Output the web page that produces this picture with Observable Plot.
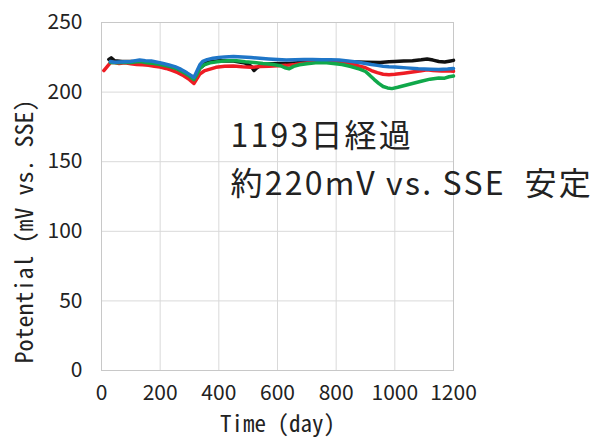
<!DOCTYPE html>
<html>
<head>
<meta charset="utf-8">
<script src="https://cdn.jsdelivr.net/npm/d3@7"></script>
<script src="https://cdn.jsdelivr.net/npm/@observablehq/plot@0.6"></script>
<style>
  html, body { margin: 0; padding: 0; background: #fff; }
</style>
</head>
<body>
<div id="chart"></div>
<script>
// ---- data ----
const xTicks = [0, 200, 400, 600, 800, 1000, 1200];
const yTicks = [0, 50, 100, 150, 200, 250];
const xTitle = "Time (day)";
const yTitle = "Potential (mV vs. SSE)";

const redDays = [8,20,32,45,60,80,100,120,140,160,180,200,220,240,260,280,300,315,325,335,350,370,390,420,450,480,510,540,570,600,630,660,690,720,750,780,810,840,870,900,920,940,960,980,1000,1030,1060,1090,1110,1130,1160,1180,1200];
const redMv   = [215.5,218.5,221.5,221.2,220.6,221,220.3,219.8,219.6,219.3,218.6,218,217,215.6,214,211.8,209,206.2,209.5,213,215.2,216.5,217.8,218.5,218.8,218.2,217.8,218.3,218.6,219,219.2,219.8,220.8,221.5,221.8,221.5,221,220.3,219.2,217.5,215.5,214,212.8,212.5,212.8,213.6,214.5,215.4,216,215.6,215.2,215.4,215];

const blueDays = [30,45,60,80,100,115,130,150,170,190,210,230,250,270,290,305,315,325,335,345,360,380,400,420,450,480,510,540,570,600,630,660,690,720,750,780,810,840,870,900,920,940,960,980,1000,1040,1080,1120,1150,1180,1200];
const blueMv   = [222,221.5,221.6,221.8,222,222.6,223,222.6,222.3,221.5,220.5,219.5,218.3,216.5,214,212,210.5,215,219.5,222,223.3,224.3,224.9,225.3,225.6,225.2,224.8,224.3,223.8,223.4,223,223.2,223.5,223.4,223.3,223.2,223,222.4,221.6,220.5,219.8,219.2,218.6,218.2,218,217.4,216.8,216.4,216.2,216.6,217];

const greenDays = [30,50,70,100,120,135,150,170,200,230,260,285,300,315,325,335,350,370,400,430,460,490,520,550,580,610,625,640,655,675,700,730,760,790,820,850,880,900,915,930,945,960,975,990,1010,1030,1060,1090,1120,1150,1170,1185,1200];
const greenMv   = [221.3,221,221.2,221.3,221.8,222,221.2,220.8,219.8,218.5,216.5,213.5,211.5,209,212.5,217,219.5,221,222,222.5,222.6,221.8,221.3,220.5,220,219,217.5,216.8,218.5,219.6,220.4,221,221.2,220.6,219.8,218.4,216.5,214.8,212,209,206.3,204,203,202.5,203.5,204.6,206.2,207.8,209.3,210.2,210,211,211.5];

const blackDays = [25,33,45,70,100,150,200,250,290,315,335,360,400,450,490,510,520,530,545,580,610,640,670,700,750,800,850,900,950,980,1000,1030,1060,1090,1110,1130,1150,1170,1190,1200];
const blackMv   = [223.5,224.6,222.5,222,222,221.5,220.5,217.5,213.5,210,217,221.5,222.6,222.3,220.8,218.5,215.5,217.5,219.8,220.3,220.6,220.5,221,221.3,221.8,222,221.8,221.5,221.3,221.8,222,222.4,222.6,223.2,223.8,223,222,221.6,222.4,222.8];

const noteText = ["1193日経過", "約220mV vs. SSE  安定"];
const noteDay  = [440, 440];
const noteMv   = [177, 142.5];

// ---- build tables ----
const rows = (days, mv) => days.map((d, i) => ({day: d, mv: mv[i]}));
const notes = noteText.map((t, i) => ({text: t, day: noteDay[i], mv: noteMv[i]}));

const lineOpts = (stroke) => ({x: "day", y: "mv", stroke, strokeWidth: 3.5, strokeLinejoin: "round", curve: "linear"});
const monoFont = "'Noto Sans Mono CJK JP', 'DejaVu Sans Mono', monospace";

const chart = Plot.plot({
  width: 597,
  height: 441,
  marginLeft: 101,
  marginRight: 144,
  marginTop: 22,
  marginBottom: 71,
  style: {background: "#fff", fontFamily: "'Noto Sans CJK JP', sans-serif", color: "#222", overflow: "visible"},
  x: {domain: [0, 1200]},
  y: {domain: [0, 250]},
  marks: [
    Plot.gridX(xTicks, {stroke: "#d9d9d9", strokeOpacity: 1}),
    Plot.gridY(yTicks, {stroke: "#d9d9d9", strokeOpacity: 1}),
    Plot.frame({stroke: "#c8c8c8"}),
    Plot.axisX(xTicks, {tickSize: 0, tickPadding: 15, fontSize: 21, label: null, tickFormat: d => String(d)}),
    Plot.axisY(yTicks, {tickSize: 0, tickPadding: 19, fontSize: 21, label: null, tickFormat: d => String(d)}),
    Plot.text([xTitle], {frameAnchor: "bottom", textAnchor: "middle", lineAnchor: "top", dy: 45, fontSize: 23, fontFamily: monoFont, fill: "#222"}),
    Plot.text([yTitle], {frameAnchor: "left", textAnchor: "middle", rotate: -90, dx: -76, dy: 35, fontSize: 24, fontFamily: monoFont, fill: "#222"}),
    Plot.line(rows(blackDays, blackMv), lineOpts("#111111")),
    Plot.line(rows(redDays, redMv), lineOpts("#ee1c24")),
    Plot.line(rows(greenDays, greenMv), lineOpts("#10a84a")),
    Plot.line(rows(blueDays, blueMv), lineOpts("#1f76c8")),
    Plot.text(notes, {x: "day", y: "mv", text: "text", textAnchor: "start", lineAnchor: "top", fontSize: 32, fill: "#222"})
  ]
});
d3.select(chart).selectAll("text")
  .filter(function () { return noteText.includes(this.textContent); })
  .attr("letter-spacing", "2.2")
  .style("letter-spacing", "2.2px");
document.getElementById("chart").appendChild(chart);
</script>
</body>
</html>
